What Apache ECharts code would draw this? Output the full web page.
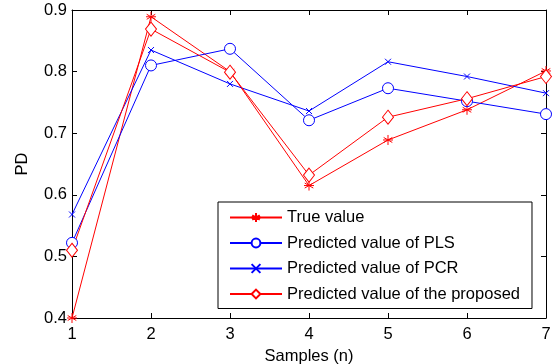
<!DOCTYPE html>
<html>
<head>
<meta charset="utf-8">
<script src="https://cdn.jsdelivr.net/npm/echarts@6/dist/echarts.min.js"></script>
<style>
  html, body { margin: 0; padding: 0; background: #fff; }
  #chart { width: 555px; height: 364px; }
</style>
</head>
<body>
<div id="chart"></div>
<script>
const samples = [1, 2, 3, 4, 5, 6, 7];
const trueValue = [0.400, 0.889, 0.800, 0.615, 0.689, 0.738, 0.801];
const plsValue = [0.522, 0.810, 0.837, 0.721, 0.773, 0.752, 0.731];
const pcrValue = [0.568, 0.835, 0.780, 0.736, 0.816, 0.792, 0.765];
const proposedValue = [0.510, 0.869, 0.799, 0.632, 0.726, 0.756, 0.792];
const seriesNames = [
  "True value",
  "Predicted value of PLS",
  "Predicted value of PCR",
  "Predicted value of the proposed",
];

const font = "Liberation Sans, Arial, sans-serif";
const fs = 16.5;
const starPath = "path://M0,-5L0,5M-4.3,-2.5L4.3,2.5M-4.3,2.5L4.3,-2.5M-5,0L5,0";
const crossPath = "path://M-1,-1L1,1M-1,1L1,-1";

const pairs = (values) => values.map((v, i) => [samples[i], v]);

const chart = echarts.init(document.getElementById("chart"), null, { renderer: "canvas" });

const mkSeries = (name, values, color, symbol, size) => ({
  name,
  type: "line",
  data: pairs(values),
  symbol,
  symbolSize: size,
  showSymbol: true,
  lineStyle: { width: 1, color },
  itemStyle: { color: symbol.startsWith("path") ? color : "#fff", borderColor: color, borderWidth: 1 },
  emphasis: { disabled: true },
});

// box around the plot: axes on all four sides, ticks pointing in
const boxAxis = {
  axisLine: { show: true, lineStyle: { color: "#000" } },
  axisTick: { show: true, inside: true, length: 5, lineStyle: { color: "#000" } },
  splitLine: { show: false },
};

chart.setOption({
  animation: false,
  textStyle: { fontFamily: font },
  grid: { left: 72, right: 9, top: 10, bottom: 46, outerBoundsMode: "none", containLabel: false },
  legend: {
    orient: "vertical",
    left: 218,
    top: 202,
    padding: [7, 12, 6, 11],
    itemGap: 8.5,
    itemWidth: 52,
    itemHeight: 11,
    borderColor: "#000",
    borderWidth: 1,
    backgroundColor: "#fff",
    textStyle: { fontSize: fs, color: "#000", fontFamily: font, lineHeight: 16 },
    data: seriesNames,
  },
  xAxis: [
    {
      type: "value",
      min: 1, max: 7, interval: 1,
      name: "Samples (n)",
      nameLocation: "middle",
      nameGap: 25,
      nameTextStyle: { fontSize: fs, color: "#000" },
      ...boxAxis,
      axisLabel: { fontSize: fs, color: "#000", margin: 8 },
    },
    {
      type: "value",
      position: "top",
      min: 1, max: 7, interval: 1,
      ...boxAxis,
      axisLabel: { show: false },
    },
  ],
  yAxis: [
    {
      type: "value",
      min: 0.4, max: 0.9, interval: 0.1,
      name: "PD",
      nameLocation: "middle",
      nameGap: 41,
      nameRotate: 90,
      nameTextStyle: { fontSize: fs, color: "#000" },
      ...boxAxis,
      axisLabel: { fontSize: fs, color: "#000", margin: 5, formatter: (v) => v.toFixed(1) },
    },
    {
      type: "value",
      position: "right",
      min: 0.4, max: 0.9, interval: 0.1,
      ...boxAxis,
      axisLabel: { show: false },
    },
  ],
  series: [
    mkSeries(seriesNames[0], trueValue, "#ff0000", starPath, 10),
    mkSeries(seriesNames[1], plsValue, "#0000ff", "circle", 11),
    mkSeries(seriesNames[2], pcrValue, "#0000ff", crossPath, 6),
    mkSeries(seriesNames[3], proposedValue, "#ff0000", "diamond", [11, 14]),
  ],
});
</script>
</body>
</html>
